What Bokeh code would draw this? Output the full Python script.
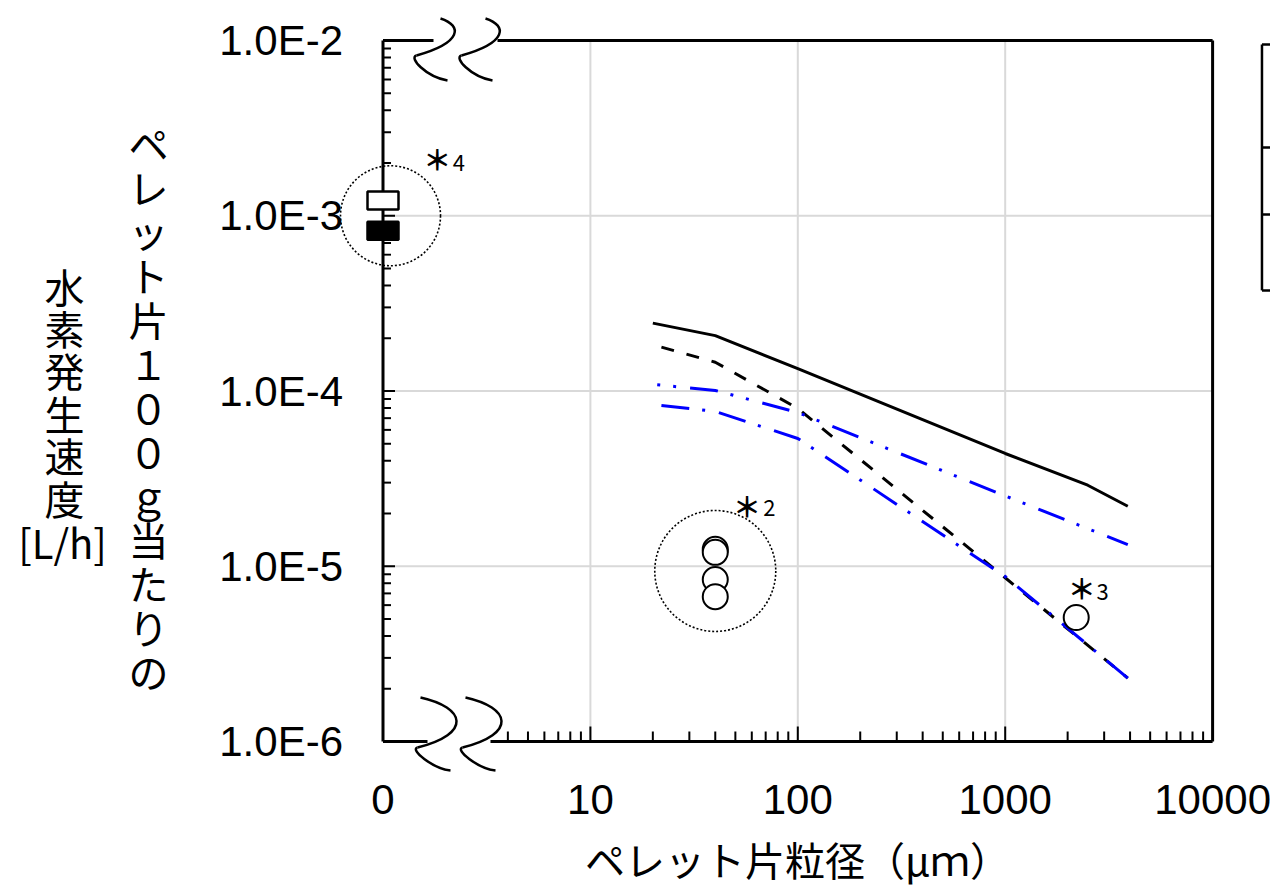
import math
from bokeh.plotting import figure
from bokeh.models import Label, Range1d
from bokeh.embed import file_html
from bokeh.resources import INLINE
from bokeh.core.properties import value

# ---------------- data ----------------
solid_x = [20, 40, 100, 1000, 2500, 3900]
solid_y = [2.44e-4, 2.07e-4, 1.34e-4, 4.4e-5, 2.9e-5, 2.2e-5]
dashed_x = [22, 40, 100, 1000, 3900]
dashed_y = [1.78e-4, 1.46e-4, 7.95e-5, 8.6e-6, 2.3e-6]
dashdotdot_x = [21, 40, 100, 1000, 3900]
dashdotdot_y = [1.085e-4, 1.007e-4, 7.54e-5, 2.52e-5, 1.33e-5]
dashdot_x = [22, 40, 100, 1000, 3900]
dashdot_y = [8.27e-5, 7.64e-5, 5.36e-5, 8.74e-6, 2.30e-6]

group2_x = [40, 40, 40, 40]
group2_y = [1.25e-5, 1.2e-5, 8.4e-6, 6.7e-6]
point3_x = [2200]
point3_y = [5.1e-6]
open_sq_x = [1]
open_sq_y = [1.22e-3]
fill_sq_x = [1]
fill_sq_y = [8.2e-4]

ring_x = [40, 1.087]
ring_y = [9.4e-6, 1.0e-3]

note_star_x = [56.9, 2337, 1.824]
note_star_y = [2.21e-5, 7.51e-6, 2.094e-3]
note_num_x = [72.9, 2950, 2.319]
note_num_y = [2.14e-5, 7.11e-6, 2.0e-3]
note_num = ["2", "3", "4"]

x_major = [1, 10, 100, 1000, 10000]
x_major_labels = ["0", "10", "100", "1000", "10000"]
x_minor = [4, 5, 6, 7, 8, 9] + [m * 10 ** e for e in (1, 2, 3) for m in range(2, 10)]
y_major = [1e-6, 1e-5, 1e-4, 1e-3, 1e-2]
y_major_labels = ["1.0E-6", "1.0E-5", "1.0E-4", "1.0E-3", "1.0E-2"]
y_minor = [m * 10 ** e for e in (-6, -5, -4, -3) for m in range(2, 10)]

x_grid = [10, 100, 1000]
y_grid = [1e-5, 1e-4, 1e-3]

legend_box_y = [9.49e-3, 2.45e-3, 1.016e-3, 3.75e-4]
legend_box_x = [17300, 40000]

x_title = "ペレット片粒径（μｍ）"
y_title_1 = "ペレット片１００ｇ当たりの"
y_title_2 = "水素発生速度"
y_title_3 = "[L/h]"

# ---------------- layout ----------------
W, H = 1270, 894
X0_PX = 382.5      # pixel of x = 1 ("0")
XDEC = 207.4       # pixels per decade (x)
YTOP_PX = 40.0     # pixel of 1e-2
YDEC = 175.25      # pixels per decade (y)

x_start = 10 ** (-X0_PX / XDEC)
x_end = 10 ** ((W - X0_PX) / XDEC)
y_end = 10 ** (-2 + YTOP_PX / YDEC)
y_start = 10 ** (-2 - (H - YTOP_PX) / YDEC)

def shx(x, dpx):
    return x * 10 ** (dpx / XDEC)

def shy(y, dpx_down):
    return y * 10 ** (-dpx_down / YDEC)

FONT = "Noto Sans CJK JP"
JP = value(FONT)
NUMF = value("Liberation Sans")

p = figure(width=W, height=H, x_axis_type="log", y_axis_type="log",
           x_range=Range1d(x_start, x_end), y_range=Range1d(y_start, y_end),
           x_axis_location=None, y_axis_location=None,
           toolbar_location=None, output_backend="svg", title=None,
           min_border=0, outline_line_color=None)
p.grid.visible = False
p.background_fill_color = "white"
p.border_fill_color = "white"

xmin, xmax = x_major[0], x_major[-1]
ymin, ymax = y_major[0], y_major[-1]

# grid
p.segment(x0=x_grid, y0=[ymin] * 3, x1=x_grid, y1=[ymax] * 3, line_color="#d9d9d9", line_width=2)
p.segment(x0=[xmin] * 3, y0=y_grid, x1=[xmax] * 3, y1=y_grid, line_color="#d9d9d9", line_width=2)

# break anchors
top_break_x = shx(1, 440 - X0_PX)
bot_break_x = shx(1, 420 - X0_PX)
BREAK_SHIFT = 45

# axes / frame lines
p.segment(x0=[xmin], y0=[ymin], x1=[xmin], y1=[ymax], line_color="black", line_width=3)          # left axis
p.segment(x0=[xmax], y0=[ymin], x1=[xmax], y1=[ymax], line_color="black", line_width=3)          # right frame
p.segment(x0=[xmin, shx(top_break_x, 57)], y0=[ymax, ymax],
          x1=[shx(top_break_x, -7), xmax], y1=[ymax, ymax], line_color="black", line_width=3)    # top frame
p.segment(x0=[xmin, shx(bot_break_x, 70)], y0=[ymin, ymin],
          x1=[shx(bot_break_x, 7), xmax], y1=[ymin, ymin], line_color="black", line_width=3)     # bottom axis

# ticks (inward)
p.ray(x=[xmin] * len(y_minor), y=y_minor, length=8, length_units="screen", angle=0,
      line_color="black", line_width=2)
p.ray(x=[xmin] * 3, y=y_major[1:4], length=12, length_units="screen", angle=0,
      line_color="black", line_width=2)
p.ray(x=x_minor, y=[ymin] * len(x_minor), length=10, length_units="screen", angle=math.pi / 2,
      line_color="black", line_width=2)
p.ray(x=x_major[1:4], y=[ymin] * 3, length=15, length_units="screen", angle=math.pi / 2,
      line_color="black", line_width=2)

# break marks (S-curves), offsets in screen px
top_tpl = [((0, -22), (22, -15), (22, 2), (-24, 15)),
           ((-24, 15), (-32, 17), (-15, 36), (7, 40))]
bot_tpl = [((0, -44), (45, -34), (52, -8), (-3, 6)),
           ((-3, 6), (-11, 8), (12, 27), (30, 29))]
bz = dict(x0=[], y0=[], x1=[], y1=[], cx0=[], cy0=[], cx1=[], cy1=[])
for ax, ay, tpl in ((top_break_x, ymax, top_tpl), (bot_break_x, ymin, bot_tpl)):
    for k in range(2):
        for seg in tpl:
            (a, b), (c, d), (e, f), (g, h) = seg
            s = k * BREAK_SHIFT
            bz["x0"].append(shx(ax, a + s)); bz["y0"].append(shy(ay, b))
            bz["cx0"].append(shx(ax, c + s)); bz["cy0"].append(shy(ay, d))
            bz["cx1"].append(shx(ax, e + s)); bz["cy1"].append(shy(ay, f))
            bz["x1"].append(shx(ax, g + s)); bz["y1"].append(shy(ay, h))
p.bezier(line_color="black", line_width=2.5, **bz)

# legend box (cut off at the right edge)
p.segment(x0=[legend_box_x[0]], y0=[legend_box_y[0]], x1=[legend_box_x[0]], y1=[legend_box_y[-1]],
          line_color="black", line_width=2.5)
p.segment(x0=[legend_box_x[0]] * 4, y0=legend_box_y, x1=[legend_box_x[1]] * 4, y1=legend_box_y,
          line_color="black", line_width=2.5)

# series lines
p.line(solid_x, solid_y, line_color="black", line_width=3)
p.line(dashed_x, dashed_y, line_color="black", line_width=3, line_dash="13 13")
p.line(dashdotdot_x, dashdotdot_y, line_color="#0000ff", line_width=3,
       line_dash="28 13 3 13 3 14", line_dash_offset=41)
p.line(dashdot_x, dashdot_y, line_color="#0000ff", line_width=3, line_dash="28 13 3 14")

# dotted rings
p.scatter(ring_x, ring_y, marker="circle", size=[121, 100], fill_color=None,
          line_color="black", line_width=1.6, line_dash="2 2")

# measured points
p.scatter(group2_x, group2_y, marker="circle", size=25, fill_color="white",
          line_color="black", line_width=2)
p.scatter(point3_x, point3_y, marker="circle", size=25, fill_color="white",
          line_color="black", line_width=2)
p.rect(open_sq_x, open_sq_y, width=31, height=18, width_units="screen", height_units="screen",
       fill_color="white", line_color="black", line_width=2.5)
p.rect(fill_sq_x, fill_sq_y, width=31, height=18, width_units="screen", height_units="screen",
       fill_color="black", line_color="black", line_width=2.5)

# notes
p.text(note_star_x, note_star_y, text=["＊"] * 3, text_font=JP, text_font_size="28px",
       text_font_style="bold", text_align="center", text_baseline="middle", text_color="black")
p.text(note_num_x, note_num_y, text=note_num, text_font=JP, text_font_size="22px",
       text_align="center", text_baseline="middle", text_color="black")

# tick labels
p.text([xmin] * 5, y_major, text=y_major_labels, x_offset=-40, text_font=NUMF,
       text_font_size="42px", text_align="right", text_baseline="middle", text_color="black")
p.text(x_major, [ymin] * 5, text=x_major_labels, y_offset=58, text_font=NUMF,
       text_font_size="42px", text_align="center", text_baseline="middle", text_color="black")

# axis titles
p.add_layout(Label(x=797, y=H - 858, x_units="screen", y_units="screen",
                   text=x_title, text_font=FONT, text_font_size="40px",
                   text_align="center", text_baseline="middle", text_color="black"))

def vertical_title(chars, x_px, y0_px, step):
    for i, ch in enumerate(chars):
        p.add_layout(Label(x=x_px, y=H - (y0_px + i * step), x_units="screen", y_units="screen",
                           text=ch, text_font=FONT, text_font_size="40px",
                           text_align="center", text_baseline="middle", text_color="black"))

vertical_title(y_title_1, 148, 142, 44.0)
vertical_title(y_title_2, 64, 285, 42.4)
p.add_layout(Label(x=62, y=H - 541, x_units="screen", y_units="screen",
                   text=y_title_3, text_font=FONT, text_font_size="40px",
                   text_align="center", text_baseline="middle", text_color="black"))

open("out.html", "w").write(file_html(p, INLINE))
